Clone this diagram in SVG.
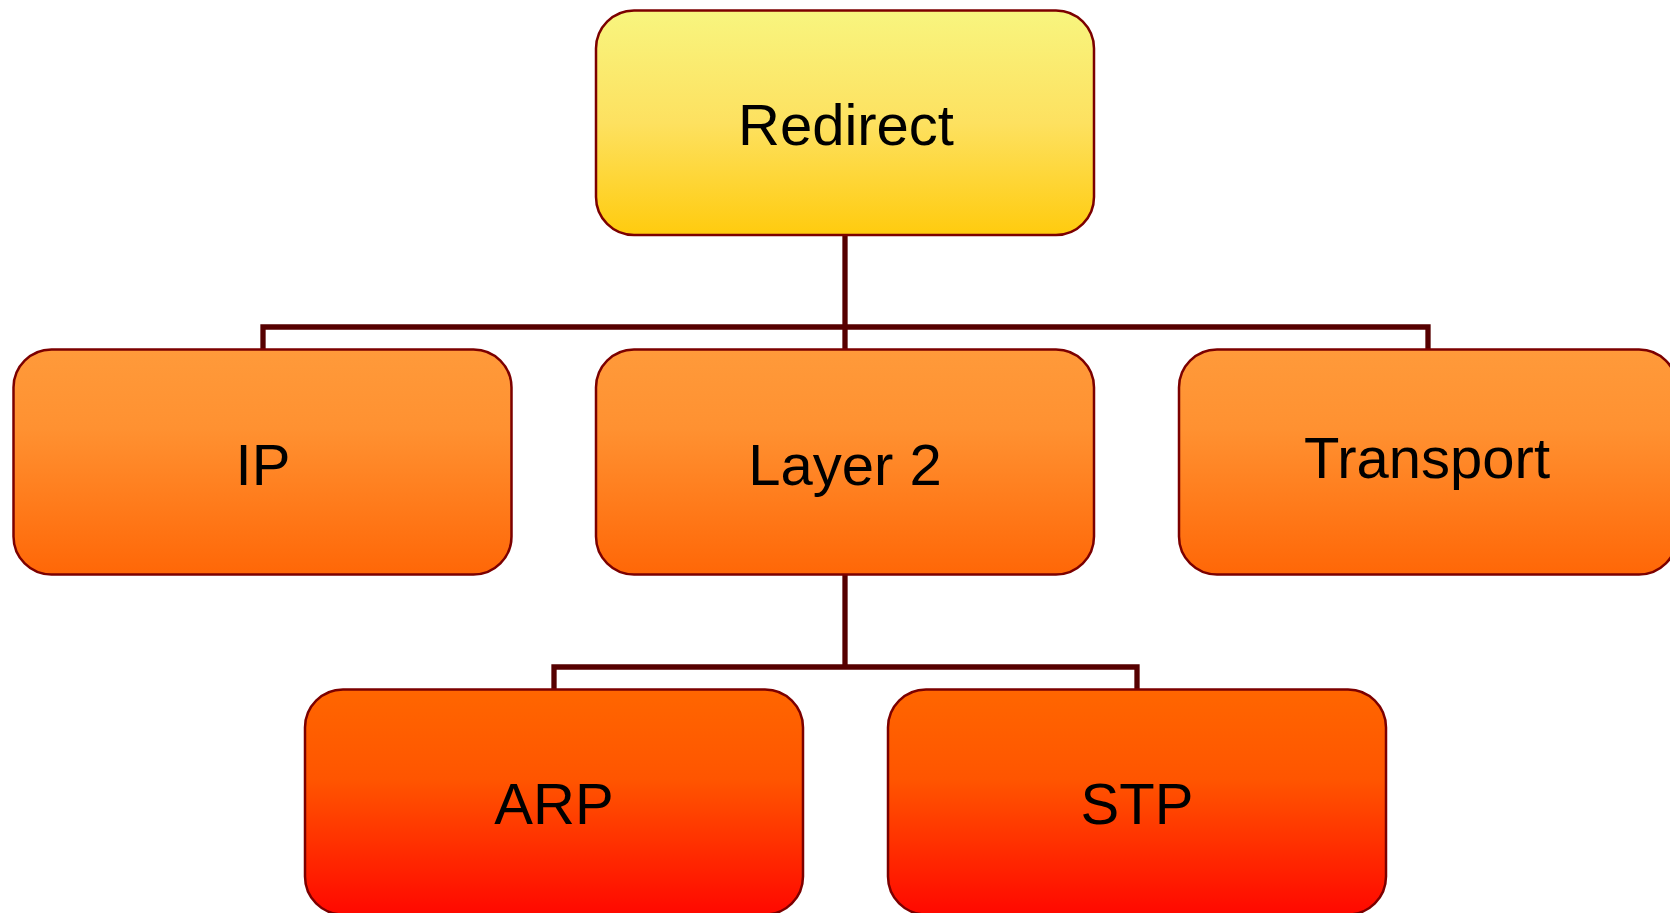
<svg xmlns="http://www.w3.org/2000/svg" width="1670" height="913" viewBox="0 0 1670 913">
  <defs>
    <linearGradient id="gradTop" x1="0" y1="0" x2="0" y2="1">
      <stop offset="0" stop-color="#f8f57f"/>
      <stop offset="0.5" stop-color="#fde160"/>
      <stop offset="1" stop-color="#ffcb0e"/>
    </linearGradient>
    <linearGradient id="gradMid" x1="0" y1="0" x2="0" y2="1">
      <stop offset="0" stop-color="#ff9a3a"/>
      <stop offset="0.35" stop-color="#ff9131"/>
      <stop offset="1" stop-color="#ff6707"/>
    </linearGradient>
    <linearGradient id="gradLow" x1="0" y1="0" x2="0" y2="1">
      <stop offset="0" stop-color="#ff6600"/>
      <stop offset="0.4" stop-color="#ff5500"/>
      <stop offset="1" stop-color="#ff0800"/>
    </linearGradient>
  </defs>
  <style>
    .box { stroke: #7c0000; stroke-width: 2.5; }
    .label { font-family: "Liberation Sans", Arial, sans-serif; font-size: 58px; fill: #000; text-anchor: middle; }
    .conn { fill: none; stroke: #560000; stroke-width: 5.3; stroke-linejoin: miter; stroke-linecap: butt; }
  </style>
  <rect width="1670" height="913" fill="#ffffff"/>

  <!-- connectors -->
  <g id="connectors">
    <path class="conn" d="M845,235 V349"/>
    <path class="conn" d="M263,349 V327 H1428 V349"/>
    <path class="conn" d="M845,575 V669"/>
    <path class="conn" d="M554,689 V667 H1137 V689"/>
  </g>

  <!-- top level -->
  <g id="node-redirect">
    <rect class="box" x="596" y="10.5" width="498" height="224.5" rx="38" fill="url(#gradTop)"/>
    <text class="label" x="846" y="145">Redirect</text>
  </g>

  <!-- second level -->
  <g id="node-ip">
    <rect class="box" x="13.5" y="349.5" width="498" height="225" rx="38" fill="url(#gradMid)"/>
    <text class="label" x="263" y="485">IP</text>
  </g>
  <g id="node-layer2">
    <rect class="box" x="596" y="349.5" width="498" height="225" rx="38" fill="url(#gradMid)"/>
    <text class="label" x="845" y="485">Layer 2</text>
  </g>
  <g id="node-transport">
    <rect class="box" x="1179" y="349.5" width="498" height="225" rx="38" fill="url(#gradMid)"/>
    <text class="label" x="1427" y="478">Transport</text>
  </g>

  <!-- third level -->
  <g id="node-arp">
    <rect class="box" x="305" y="689.5" width="498" height="225" rx="38" fill="url(#gradLow)"/>
    <text class="label" x="554" y="824">ARP</text>
  </g>
  <g id="node-stp">
    <rect class="box" x="888" y="689.5" width="498" height="225" rx="38" fill="url(#gradLow)"/>
    <text class="label" x="1137" y="824">STP</text>
  </g>
</svg>
